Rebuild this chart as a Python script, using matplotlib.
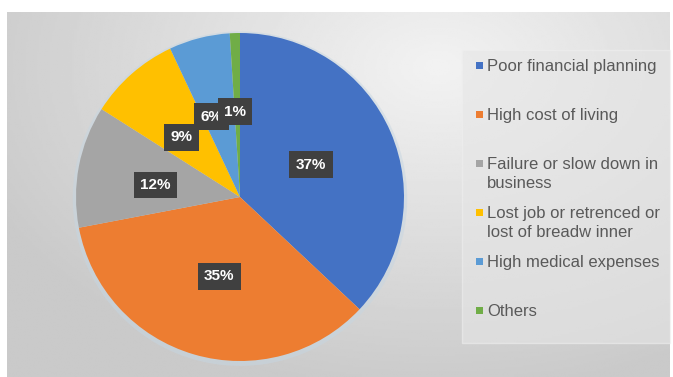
import matplotlib.pyplot as plt
import numpy as np
from matplotlib.patches import Rectangle, Circle

# reasons and share of respondents (%)
reasons = ["Poor financial planning", "High cost of living",
           "Failure or slow down in\nbusiness",
           "Lost job or retrenced or\nlost of breadw inner",
           "High medical expenses", "Others"]
shares = [37, 35, 12, 9, 6, 1]
colors = ["#4472C4", "#ED7D31", "#A5A5A5", "#FFC000", "#5B9BD5", "#70AD47"]

plt.rcParams['font.family'] = ['Liberation Sans', 'DejaVu Sans']

W, H = 673, 377
fig = plt.figure(figsize=(W / 100, H / 100), dpi=100)
fig.patch.set_facecolor("white")

# gray gradient chart area
bg = fig.add_axes([7 / W, 0, 663 / W, 365 / H])
yy, xx = np.mgrid[0:1:200j, 0:1:300j]
d = np.sqrt(((xx - 0.65) * 1.2) ** 2 + ((yy - 0.15) * 1.0) ** 2)
shade = 0.95 - 0.16 * np.clip(d / 0.9, 0, 1)
bg.imshow(shade, cmap="gray", vmin=0, vmax=1, aspect="auto",
          extent=[0, 1, 0, 1], origin="upper")
bg.axis("off")

# legend box
fig.patches.append(Rectangle((462 / W, (H - 343) / H), 208 / W, 293 / H,
                             transform=fig.transFigure, fc="#e6e6e6",
                             ec="#efefef", lw=1, alpha=0.6))

# pie
ax = fig.add_axes([76 / W, 16 / H, 328 / W, 328 / H])
halo = Circle((0, -0.01), 1.02, fc="#c6d6e2", ec="none", alpha=0.5)
halo.set_clip_on(False)
ax.add_patch(halo)
wedges, _, autotexts = ax.pie(shares, colors=colors, startangle=90,
                              counterclock=False, autopct="%d%%",
                              pctdistance=0.52, radius=1,
                              wedgeprops=dict(linewidth=0),
                              textprops=dict(color="white", fontsize=11,
                                             fontweight="bold"))
label_r = [0.475, 0.50, 0.52, 0.51, 0.52, 0.52]
label_shift = [1, 1.5, 2.7, 3, 5, 1.6]
for w, t, r, s in zip(wedges, autotexts, label_r, label_shift):
    mid = np.deg2rad((w.theta1 + w.theta2) / 2 + s)
    t.set_position((r * np.cos(mid), r * np.sin(mid)))
    t.set_bbox(dict(boxstyle="square,pad=0.42", fc="#404040", ec="none"))
ax.set_xlim(-1, 1)
ax.set_ylim(-1, 1)
ax.set_aspect("equal")
ax.axis("off")

# legend, first line of each entry aligned with its marker
for i, (name, c) in enumerate(zip(reasons, colors)):
    y = 65 + i * 49
    fig.patches.append(Rectangle((476 / W, (H - y - 3.5) / H), 7 / W, 7 / H,
                                 transform=fig.transFigure, fc=c, ec="none"))
    for j, line in enumerate(name.split("\n")):
        fig.text(487 / W, (H - y - 6 - j * 19) / H, line, fontsize=12,
                 color="#595959", va="baseline", ha="left")

fig.savefig("out.png", dpi=100)
